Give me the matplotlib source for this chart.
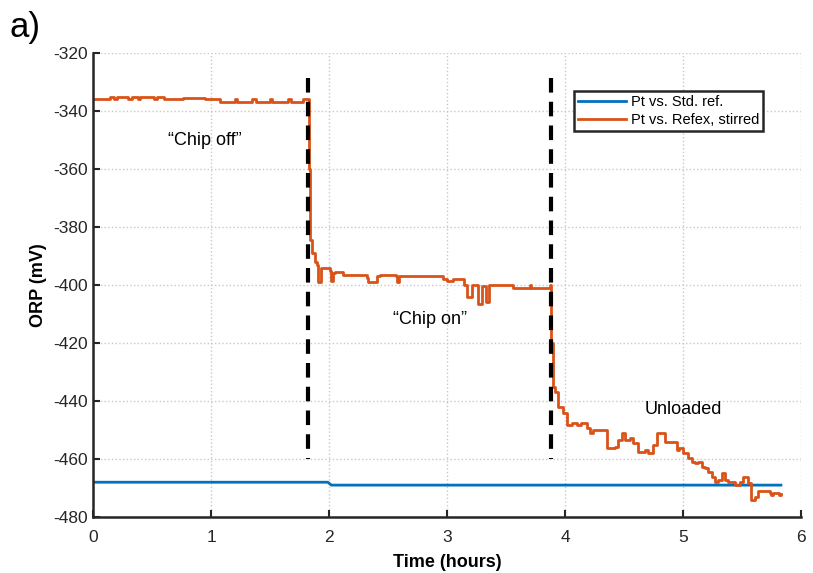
import numpy as np
import matplotlib.pyplot as plt

plt.rcParams['font.family'] = ['Liberation Sans', 'DejaVu Sans']
plt.rcParams['axes.unicode_minus'] = False

# Pt vs. standard reference (blue)
std_t = [0.0, 1.99, 2.02, 5.83]
std_orp = [-468.0, -468.0, -469.0, -469.0]

# Pt vs. Refex, stirred (orange)
refex_t = [0.00, 0.12, 0.14, 0.18, 0.20, 0.30, 0.33, 0.38, 0.40, 0.52, 0.54, 0.60,
           0.62, 0.75, 0.76, 0.95, 0.97, 1.05, 1.08, 1.20, 1.22, 1.35, 1.38, 1.50,
           1.52, 1.65, 1.68, 1.78, 1.82, 1.83, 1.84, 1.86, 1.88, 1.90, 1.91, 1.93,
           2.01, 2.02, 2.03, 2.05, 2.09, 2.12, 2.24, 2.32, 2.33, 2.41, 2.43, 2.57,
           2.58, 2.59, 2.80, 2.97, 3.00, 3.05, 3.14, 3.17, 3.21, 3.26, 3.30, 3.33,
           3.36, 3.55, 3.56, 3.70, 3.71, 3.87, 3.88, 3.90, 3.915, 3.94, 3.98, 4.02,
           4.06, 4.10, 4.14, 4.19, 4.21, 4.24, 4.36, 4.42, 4.45, 4.48, 4.51, 4.55,
           4.58, 4.62, 4.68, 4.70, 4.75, 4.78, 4.82, 4.85, 4.86, 4.93, 4.95, 4.97,
           5.00, 5.03, 5.04, 5.08, 5.10, 5.13, 5.16, 5.19, 5.21, 5.25, 5.27, 5.30,
           5.33, 5.36, 5.38, 5.44, 5.48, 5.51, 5.55, 5.58, 5.61, 5.64, 5.74, 5.75,
           5.76, 5.81, 5.83]
refex_orp = [-336.0, -336.0, -335.0, -336.0, -335.0, -336.0, -335.0, -336.0, -335.0,
             -336.0, -335.0, -336.0, -336.0, -336.0, -335.5, -336.0, -336.0, -336.0,
             -337.0, -336.0, -337.0, -336.0, -337.0, -336.0, -337.0, -336.0, -337.0,
             -336.0, -336.0, -360.0, -384.5, -389.0, -392.0, -393.0, -399.0, -394.0,
             -395.0, -398.5, -396.0, -395.5, -395.5, -396.5, -396.5, -397.5, -399.0,
             -397.0, -396.5, -397.0, -399.0, -397.0, -397.0, -398.0, -398.5, -398.0,
             -400.0, -404.0, -400.0, -406.5, -400.5, -406.0, -400.0, -400.0, -401.0,
             -400.0, -401.0, -400.0, -420.0, -435.0, -437.0, -442.0, -444.0, -448.3,
             -447.7, -448.3, -447.7, -449.4, -451.1, -450.0, -456.3, -455.7, -453.4,
             -451.1, -453.4, -452.9, -454.6, -457.5, -457.0, -458.0, -455.2, -451.1,
             -451.1, -454.0, -454.0, -454.0, -456.9, -456.2, -458.0, -458.0, -459.8,
             -460.9, -461.5, -460.9, -462.6, -463.2, -464.4, -466.1, -467.8, -467.2,
             -464.9, -467.2, -467.8, -469.0, -467.8, -466.1, -468.4, -474.1, -473.0,
             -470.9, -471.6, -472.5, -471.6, -472.5, -472.0]

event_t = [1.82, 3.88]
notes = ["\u201cChip off\u201d", "\u201cChip on\u201d", "Unloaded"]
note_t = [0.95, 2.86, 5.0]
note_orp = [-350, -412, -443]

blue = '#0072BD'
orange = '#D95319'

fig = plt.figure(figsize=(8.13, 5.73), dpi=100)
ax = fig.add_axes([0.1144, 0.0977, 0.8708, 0.8098])

ax.plot(std_t, std_orp, color=blue, lw=2, label='Pt vs. Std. ref.')
ax.plot(refex_t, refex_orp, color=orange, lw=2, drawstyle='steps-post',
        label='Pt vs. Refex, stirred')

for t in event_t:
    ax.plot([t, t], [-328.5, -460], color='k', lw=3, ls=(0, (3.5, 2.2)))

for s, t, v in zip(notes, note_t, note_orp):
    ax.text(t, v, s, ha='center', va='center', fontsize=13)

ax.set_xlim(0, 6)
ax.set_ylim(-480, -320)
ax.set_xticks(range(0, 7))
ax.set_yticks(range(-480, -319, 20))
ax.grid(True, ls=':', color='#c8c8c8', lw=1)
ax.tick_params(direction='in', length=5, width=1.5, labelsize=12.5, colors='#262626')
ax.tick_params(axis='x', pad=9)
for side in ['top', 'right']:
    ax.spines[side].set_visible(False)
for side in ['left', 'bottom']:
    ax.spines[side].set_linewidth(1.8)
    ax.spines[side].set_color('#262626')

ax.set_xlabel('Time (hours)', fontsize=13, fontweight='bold', labelpad=7)
ax.set_ylabel('ORP (mV)', fontsize=13, fontweight='bold', labelpad=5)

leg = ax.legend(loc='upper right', bbox_to_anchor=(0.947, 0.918), fontsize=10.5,
                fancybox=False, framealpha=1, handlelength=3.3, handletextpad=0.3,
                borderpad=0.3, labelspacing=0.25, borderaxespad=0)
leg.get_frame().set_edgecolor('#262626')
leg.get_frame().set_linewidth(1.8)

fig.text(0.012, 0.935, 'a)', fontsize=25)

fig.savefig('out.png', dpi=100)
